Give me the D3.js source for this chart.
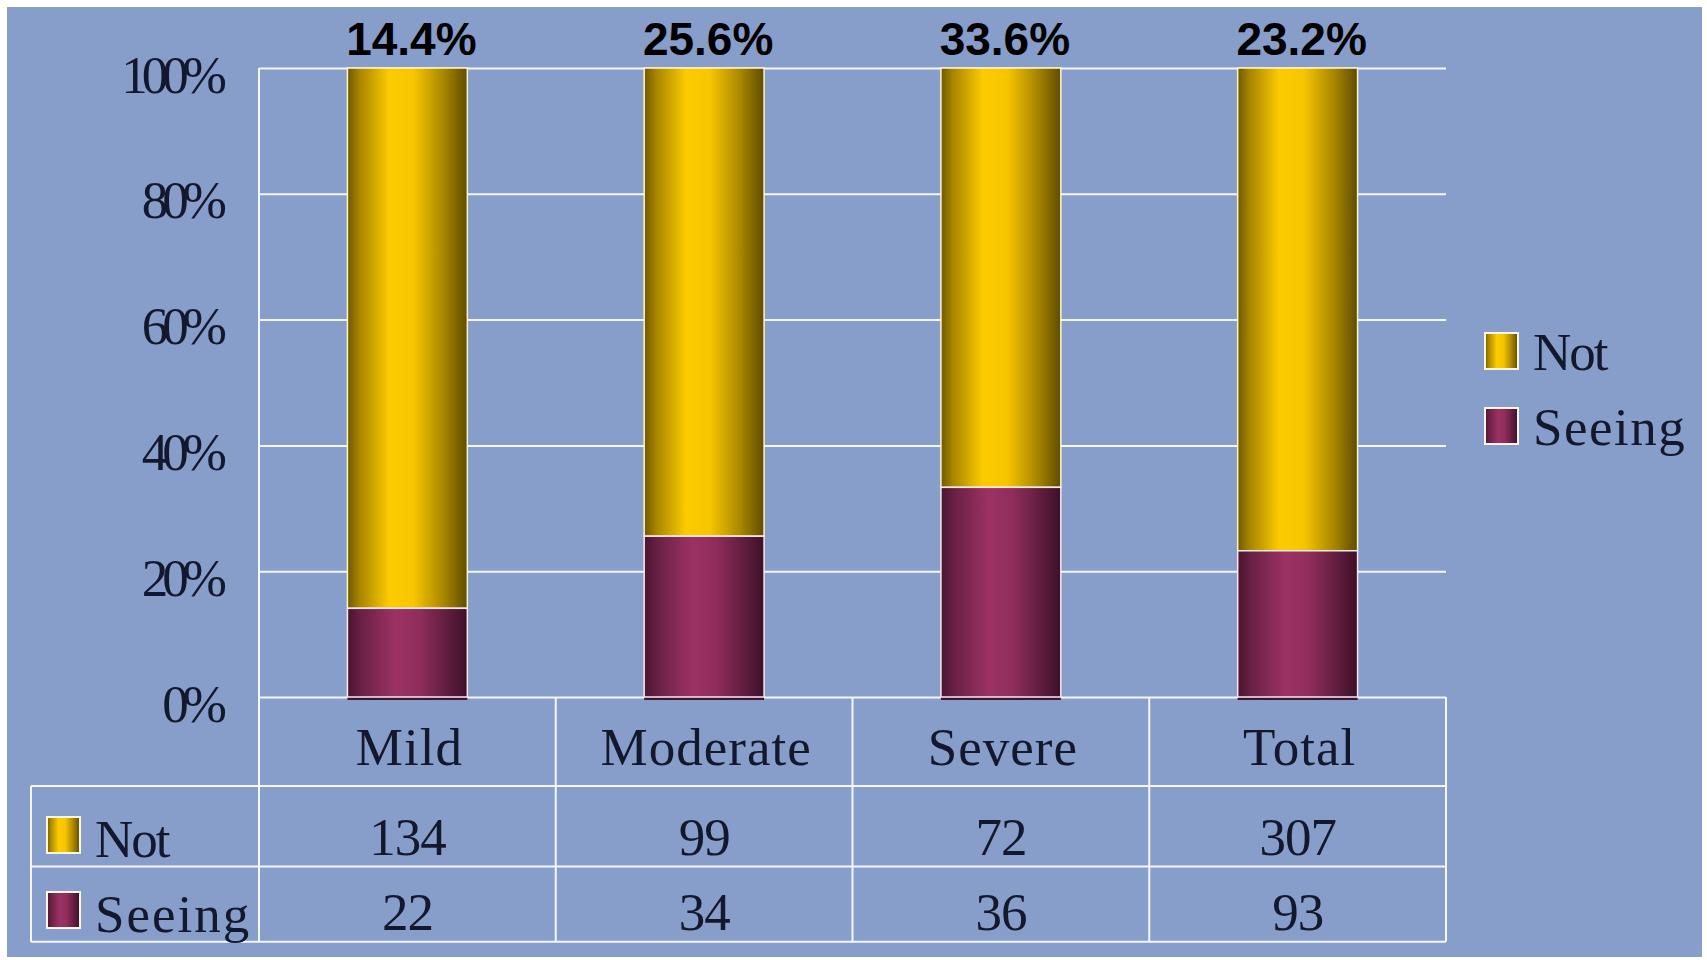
<!DOCTYPE html>
<html>
<head>
<meta charset="utf-8">
<script src="https://cdn.jsdelivr.net/npm/d3@7"></script>
<style>
  body { margin: 0; background: #ffffff; }
  .serif { font-family: 'Liberation Serif', 'DejaVu Serif', serif; fill: #14182c; }
</style>
</head>
<body>
<svg width="1707" height="960"></svg>
<script>
window.addEventListener('DOMContentLoaded', function() {

const categories = ['Mild', 'Moderate', 'Severe', 'Total'];
const notValues = [134, 99, 72, 307];
const seeingValues = [22, 34, 36, 93];
const pctLabels = ['14.4%', '25.6%', '33.6%', '23.2%'];
const yTicks = [0, 20, 40, 60, 80, 100];
const seriesNames = ['Not', 'Seeing'];

const svg = d3.select('svg');

const width = +svg.attr('width');
const height = +svg.attr('height');

const plot = { left: 259, right: 1446, top: 68, bottom: 697 };
const rows = [697, 786, 866.6, 941.7];   // table row edges
const tableLeft = 31;
const lineColor = '#f4f7ff';

let dataset = categories.map((c, i) => {
  let total = notValues[i] + seeingValues[i];
  return { cat: c, seeing: seeingValues[i] / total * 100, not: notValues[i] / total * 100, label: pctLabels[i] };
});

let xScale, yScale;

// background
svg.append('rect')
  .attr('x', 7).attr('y', 7)
  .attr('width', width - 12).attr('height', height - 10)
  .attr('fill', '#879dca');

// gradients for the cylinder look
let defs = svg.append('defs');
let addGrad = (id, stops) => {
  let g = defs.append('linearGradient').attr('id', id)
    .attr('x1', '0%').attr('x2', '100%').attr('y1', '0%').attr('y2', '0%');
  stops.forEach(s => g.append('stop').attr('offset', s[0]).attr('stop-color', s[1]));
};
addGrad('gNot', [['0%', '#6f5800'], ['10%', '#a88500'], ['35%', '#fccb00'], ['55%', '#f7c600'], ['80%', '#a98700'], ['100%', '#5f4c00']]);
addGrad('gSeeing', [['0%', '#4a1430'], ['12%', '#6b2145'], ['40%', '#9c3264'], ['60%', '#8f2d5b'], ['85%', '#5c1c3b'], ['100%', '#3d1027']]);
const fills = { Not: 'url(#gNot)', Seeing: 'url(#gSeeing)' };

let setScales = () => {
  xScale = d3.scaleBand()
    .domain(categories)
    .range([plot.left, plot.right])
    .padding(0);

  yScale = d3.scaleLinear()
    .domain([0, 100])
    .range([plot.bottom, plot.top]);
};

let drawAxes = () => {
  // gridlines
  let grid = svg.append('g')
    .attr('transform', 'translate(' + plot.left + ',0)')
    .call(d3.axisLeft(yScale).tickValues(yTicks).tickSize(-(plot.right - plot.left)).tickFormat(''));
  grid.select('.domain').remove();
  grid.selectAll('line').attr('stroke', lineColor).attr('stroke-width', 2);

  // y labels
  let yAxis = svg.append('g')
    .attr('id', 'y-axis')
    .attr('transform', 'translate(' + plot.left + ',0)')
    .call(d3.axisLeft(yScale).tickValues(yTicks).tickSize(0).tickPadding(38).tickFormat(d => d + '%'));
  yAxis.select('.domain').remove();
  yAxis.selectAll('text')
    .attr('class', 'serif')
    .attr('dy', 0)
    .attr('y', 24)
    .style('font-size', '53px')
    .style('letter-spacing', '-6px');

  // table grid
  let t = svg.append('g').attr('stroke', lineColor).attr('stroke-width', 2);
  t.append('line').attr('x1', plot.left).attr('x2', plot.left).attr('y1', plot.top).attr('y2', rows[3]);
  rows.slice(1).forEach(y => {
    t.append('line').attr('x1', tableLeft).attr('x2', plot.right).attr('y1', y).attr('y2', y);
  });
  t.append('line').attr('x1', tableLeft).attr('x2', tableLeft).attr('y1', rows[1]).attr('y2', rows[3]);
  categories.slice(1).concat(['end']).forEach(c => {
    let x = c === 'end' ? plot.right : xScale(c);
    t.append('line').attr('x1', x).attr('x2', x).attr('y1', rows[0]).attr('y2', rows[3]);
  });

  // category labels
  svg.append('g').selectAll('text').data(categories).enter()
    .append('text')
    .attr('class', 'serif')
    .attr('x', d => xScale(d) + xScale.bandwidth() / 2 + 2)
    .attr('y', 765)
    .attr('text-anchor', 'middle')
    .style('font-size', '53px')
    .style('letter-spacing', '1px')
    .text(d => d);

  // table values
  [notValues, seeingValues].forEach((vals, r) => {
    svg.append('g').selectAll('text').data(vals).enter()
      .append('text')
      .attr('class', 'serif')
      .attr('x', (d, i) => xScale(categories[i]) + xScale.bandwidth() / 2)
      .attr('y', r === 0 ? 855 : 930)
      .attr('text-anchor', 'middle')
      .style('font-size', '53px')
      .style('letter-spacing', '-1px')
      .text(d => d);
  });
};

let drawBars = () => {
  let barW = xScale.bandwidth() * 0.404;
  let g = svg.append('g');

  dataset.forEach(d => {
    let x = xScale(d.cat) + (xScale.bandwidth() - barW) / 2;
    // shadow under bar
    g.append('rect')
      .attr('x', x).attr('y', yScale(0) - 1)
      .attr('width', barW).attr('height', 4)
      .attr('fill', '#3c1530');
    g.append('rect')
      .attr('x', x).attr('y', yScale(100))
      .attr('width', barW).attr('height', yScale(d.seeing) - yScale(100))
      .attr('fill', fills.Not)
      .attr('stroke', '#fff6c8').attr('stroke-width', 1.5);
    g.append('rect')
      .attr('x', x).attr('y', yScale(d.seeing))
      .attr('width', barW).attr('height', yScale(0) - yScale(d.seeing))
      .attr('fill', fills.Seeing)
      .attr('stroke', '#fbe8f0').attr('stroke-width', 1.5);
  });

  svg.append('g').selectAll('text').data(dataset).enter()
    .append('text')
    .attr('x', d => xScale(d.cat) + xScale.bandwidth() / 2 + 4)
    .attr('y', 55)
    .attr('text-anchor', 'middle')
    .style('font-family', "'Liberation Sans', Arial, sans-serif")
    .style('font-weight', 'bold')
    .style('font-size', '46px')
    .attr('fill', '#000')
    .text(d => d.label);
};

let drawLegends = () => {
  let keyW = 33, keyH = 36;

  // legend inside table
  seriesNames.forEach((s, i) => {
    let base = i === 0 ? 855 : 930;
    svg.append('rect')
      .attr('x', 47).attr('y', base - keyH - 2)
      .attr('width', keyW).attr('height', keyH)
      .attr('fill', fills[s])
      .attr('stroke', '#fbf6e0').attr('stroke-width', 2);
    svg.append('text')
      .attr('class', 'serif')
      .attr('x', 95).attr('y', base + 2)
      .style('font-size', '53px')
      .style('letter-spacing', i === 0 ? '-2px' : '2px')
      .text(s);
  });

  // legend at right
  seriesNames.forEach((s, i) => {
    let base = i === 0 ? 370 : 445;
    svg.append('rect')
      .attr('x', 1485).attr('y', base - keyH - 1)
      .attr('width', keyW).attr('height', keyH)
      .attr('fill', fills[s])
      .attr('stroke', '#fbf6e0').attr('stroke-width', 2);
    svg.append('text')
      .attr('class', 'serif')
      .attr('x', 1533).attr('y', base)
      .style('font-size', '53px')
      .style('letter-spacing', i === 0 ? '-2px' : '1.5px')
      .text(s);
  });
};

setScales();
drawAxes();
drawBars();
drawLegends();

});
</script>
</body>
</html>
